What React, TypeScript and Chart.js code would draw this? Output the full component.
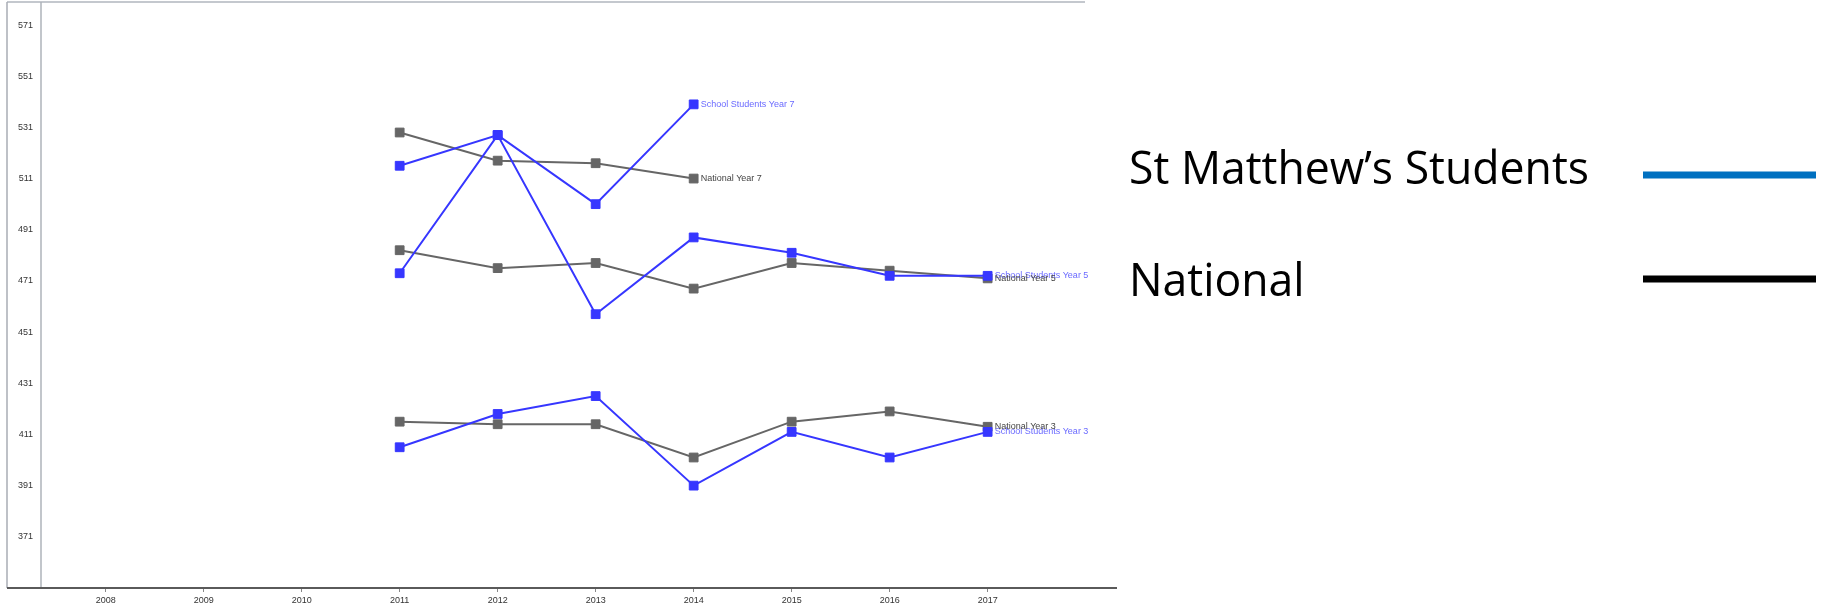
import React, { useEffect, useRef } from 'react';
import { Chart, registerables } from 'chart.js';

Chart.register(...registerables);

// ---- data ----
const years = [2011, 2012, 2013, 2014, 2015, 2016, 2017];
const xTickYears = [2008, 2009, 2010, 2011, 2012, 2013, 2014, 2015, 2016, 2017];
const yTickValues = [371, 391, 411, 431, 451, 471, 491, 511, 531, 551, 571];

const schoolYear7 = [516, 528, 501, 540];
const nationalYear7 = [529, 518, 517, 511];
const schoolYear5 = [474, 528, 458, 488, 482, 473, 473];
const nationalYear5 = [483, 476, 478, 468, 478, 475, 472];
const schoolYear3 = [406, 419, 426, 391, 412, 402, 412];
const nationalYear3 = [416, 415, 415, 402, 416, 420, 414];

const seriesLabels = [
  'School Students Year 7',
  'School Students Year 5',
  'School Students Year 3',
  'National Year 7',
  'National Year 5',
  'National Year 3',
];
const legendLabels = ['St Matthew\u2019s Students', 'National'];

const BLUE = '#3636ff';
const BLUE_TEXT = '#6a6aff';
const GRAY = '#666666';
const GRAY_TEXT = '#444444';
const SMALL_FONT = '"Liberation Sans", Arial, sans-serif';

const toPoints = (vals: number[]) => vals.map((v, i) => ({ x: years[i], y: v }));

const makeDataset = (label: string, vals: number[], color: string, textColor: string) => ({
  label,
  data: toPoints(vals),
  borderColor: color,
  backgroundColor: color,
  borderWidth: 2,
  pointStyle: 'rect',
  pointRadius: 6.2,
  pointBorderWidth: 1,
  pointBackgroundColor: color,
  pointBorderColor: color,
  tension: 0,
  clip: false,
  textColor,
});

const framePlugin = {
  id: 'frame',
  beforeDatasetsDraw(chart: any) {
    const { ctx, chartArea } = chart;
    const { left, right, top, bottom } = chartArea;
    const outerLeft = left - 34;
    ctx.save();
    // top border
    ctx.strokeStyle = '#c4c8ce';
    ctx.lineWidth = 2;
    ctx.beginPath();
    ctx.moveTo(outerLeft, top);
    ctx.lineTo(right - 32, top);
    ctx.stroke();
    // outer left border
    ctx.strokeStyle = '#a8adb4';
    ctx.lineWidth = 1.5;
    ctx.beginPath();
    ctx.moveTo(outerLeft, top);
    ctx.lineTo(outerLeft, bottom);
    ctx.stroke();
    // y axis line
    ctx.strokeStyle = '#aeb3ba';
    ctx.lineWidth = 1.5;
    ctx.beginPath();
    ctx.moveTo(left, top);
    ctx.lineTo(left, bottom);
    ctx.stroke();
    // x axis line
    ctx.strokeStyle = '#5a5a5a';
    ctx.lineWidth = 2;
    ctx.beginPath();
    ctx.moveTo(outerLeft, bottom);
    ctx.lineTo(right, bottom);
    ctx.stroke();
    ctx.restore();
  },
};

const endLabelPlugin = {
  id: 'endLabels',
  afterDatasetsDraw(chart: any) {
    const { ctx } = chart;
    ctx.save();
    ctx.font = `9px ${SMALL_FONT}`;
    ctx.textAlign = 'left';
    ctx.textBaseline = 'middle';
    chart.data.datasets.forEach((ds: any, i: number) => {
      const meta = chart.getDatasetMeta(i);
      const last = meta.data[meta.data.length - 1];
      if (!last) return;
      ctx.fillStyle = ds.textColor;
      ctx.fillText(ds.label, last.x + 7, last.y);
    });
    ctx.restore();
  },
};

const sideLegendPlugin = {
  id: 'sideLegend',
  afterDraw(chart: any) {
    const { ctx } = chart;
    ctx.save();
    ctx.font = '45px "Open Sans", "Noto Sans", sans-serif';
    ctx.fillStyle = '#000000';
    ctx.textAlign = 'left';
    ctx.textBaseline = 'alphabetic';
    const w0 = ctx.measureText(legendLabels[0]).width;
    const sx = 460 / w0;
    const textX = 1129;
    const baselines = [184, 296];
    legendLabels.forEach((txt, i) => {
      ctx.save();
      ctx.translate(textX, baselines[i]);
      ctx.scale(sx, 1);
      ctx.fillText(txt, 0, 0);
      ctx.restore();
    });
    const lineColors = ['#0070c0', '#000000'];
    const lineYs = [175, 279];
    lineColors.forEach((c, i) => {
      ctx.fillStyle = c;
      ctx.fillRect(1643, lineYs[i] - 3.5, 173, 7);
    });
    ctx.restore();
  },
};

export default function App() {
  const canvasRef = useRef<HTMLCanvasElement | null>(null);

  useEffect(() => {
    document.body.style.margin = '0';
    const canvas = canvasRef.current;
    if (!canvas) return;
    const chart = new Chart(canvas, {
      type: 'line',
      data: {
        datasets: [
          makeDataset(seriesLabels[0], schoolYear7, BLUE, BLUE_TEXT),
          makeDataset(seriesLabels[1], schoolYear5, BLUE, BLUE_TEXT),
          makeDataset(seriesLabels[2], schoolYear3, BLUE, BLUE_TEXT),
          makeDataset(seriesLabels[3], nationalYear7, GRAY, GRAY_TEXT),
          makeDataset(seriesLabels[4], nationalYear5, GRAY, GRAY_TEXT),
          makeDataset(seriesLabels[5], nationalYear3, GRAY, GRAY_TEXT),
        ] as any,
      },
      options: {
        responsive: false,
        animation: false,
        devicePixelRatio: 1,
        layout: { autoPadding: false, padding: { left: 7, top: 2, right: 708, bottom: 0 } },
        plugins: {
          legend: { display: false },
          tooltip: { enabled: false },
        },
        events: [],
        scales: {
          x: {
            type: 'linear',
            min: 2007.34,
            max: 2018.32,
            afterBuildTicks: (s: any) => {
              s.ticks = xTickYears.map((v) => ({ value: v }));
            },
            afterFit: (s: any) => {
              s.height = 25;
              s.paddingLeft = 0;
              s.paddingRight = 0;
              s.paddingTop = 0;
              s.paddingBottom = 0;
            },
            ticks: {
              callback: (v: any) => String(v),
              font: { size: 9, family: SMALL_FONT },
              color: '#333333',
              padding: 3,
              maxRotation: 0,
              autoSkip: false,
            },
            grid: {
              display: true,
              drawOnChartArea: false,
              drawTicks: true,
              tickLength: 4,
              color: '#888888',
            },
            border: { display: false },
          },
          y: {
            type: 'linear',
            min: 351,
            max: 580,
            afterBuildTicks: (s: any) => {
              s.ticks = yTickValues.map((v) => ({ value: v }));
            },
            afterFit: (s: any) => {
              s.width = 34;
              s.paddingLeft = 0;
              s.paddingRight = 0;
              s.paddingTop = 0;
              s.paddingBottom = 0;
            },
            ticks: {
              callback: (v: any) => String(v),
              font: { size: 9, family: SMALL_FONT },
              color: '#333333',
              padding: 8,
            },
            grid: { display: false, drawTicks: false },
            border: { display: false },
          },
        },
      } as any,
      plugins: [framePlugin, endLabelPlugin, sideLegendPlugin],
    });
    return () => chart.destroy();
  }, []);

  return (
    <div style={{ width: 1825, height: 613, position: 'relative', background: '#ffffff' }}>
      <canvas ref={canvasRef} width={1825} height={613} style={{ display: 'block' }} />
    </div>
  );
}
